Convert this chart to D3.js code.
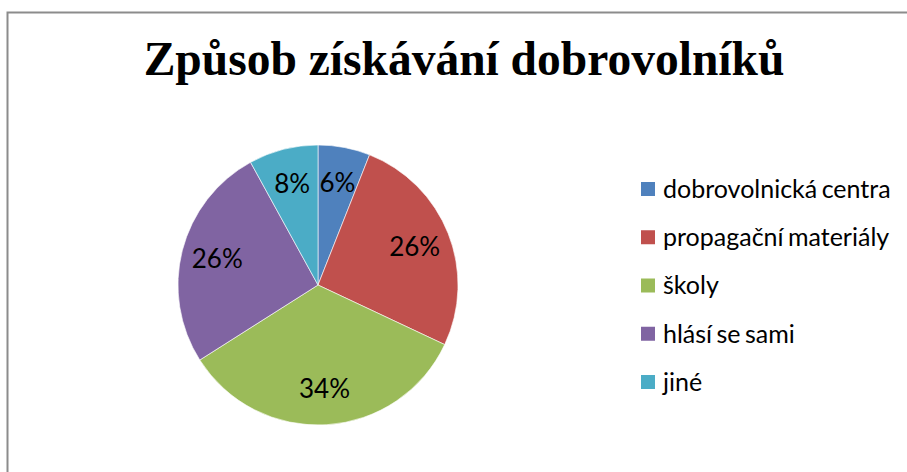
<!DOCTYPE html>
<html lang="cs">
  <head>
    <meta charset="utf-8">
    <title>Způsob získávání dobrovolníků</title>
    <style>
      body { margin: 0; background: #fff; }
      svg { display: block; }
      .title {
        font-family: 'Liberation Serif', 'Times New Roman', serif;
        font-weight: bold;
        font-size: 47.5px;
        text-anchor: middle;
        fill: #000;
      }
      .pct {
        font-family: Lato, 'Open Sans', sans-serif;
        font-size: 26px;
        text-anchor: middle;
        fill: #000;
      }
      .legend text {
        font-family: Lato, 'Open Sans', sans-serif;
        font-size: 25px;
        word-spacing: -2px;
        fill: #000;
      }
    </style>
  </head>
  <body>
    <svg id="chart" width="907" height="472"></svg>
    <script src="https://d3js.org/d3.v7.min.js"></script>
    <script>
      // data
      var categories = ["dobrovolnická centra", "propagační materiály", "školy", "hlásí se sami", "jiné"];
      var values = [6, 26, 34, 26, 8];
      var colors = ["#4F81BD", "#C0504D", "#9BBB59", "#8064A2", "#4BACC6"];

      var svg = d3.select("#chart");

      // chart area frame (only left and top edges show)
      svg.append("rect")
        .attr("x", 7.5)
        .attr("y", 12.5)
        .attr("width", 940)
        .attr("height", 500)
        .attr("fill", "none")
        .attr("stroke", "#8c8c8c")
        .attr("stroke-width", 2);

      svg.append("text")
        .attr("class", "title")
        .attr("x", 464)
        .attr("y", 75)
        .text("Způsob získávání dobrovolníků");

      var data = categories.map(function (c, i) {
        return { name: c, value: values[i], color: colors[i] };
      });

      var R = 140;
      var pie = d3.pie().sort(null).value(d => d.value);
      var arc = d3.arc().innerRadius(0).outerRadius(R);
      var labelArc = d3.arc().innerRadius(104).outerRadius(104);

      var g = svg.append("g")
        .attr("transform", "translate(" + 318 + "," + 285 + ")");

      var arcs = pie(data);

      g.selectAll("path")
        .data(arcs)
        .enter()
        .append("path")
        .attr("d", arc)
        .attr("fill", d => d.data.color)
        .attr("stroke", "#fff")
        .attr("stroke-width", 0.6);

      g.selectAll(".pct")
        .data(arcs)
        .enter()
        .append("text")
        .attr("class", "pct")
        .attr("x", d => labelArc.centroid(d)[0])
        .attr("y", d => labelArc.centroid(d)[1])
        .attr("dy", "0.35em")
        .text(d => d.data.value + "%");

      var legendY = d3.scalePoint()
        .domain(categories)
        .range([189, 382]);

      var legend = svg.append("g")
        .attr("class", "legend")
        .selectAll("g")
        .data(data)
        .enter()
        .append("g")
        .attr("transform", d => "translate(641," + legendY(d.name) + ")");

      legend.append("rect")
        .attr("x", 0)
        .attr("y", -7)
        .attr("width", 14)
        .attr("height", 14)
        .attr("fill", d => d.color);

      legend.append("text")
        .attr("x", 22)
        .attr("y", 0)
        .attr("dy", "0.35em")
        .text(d => d.name);
    </script>
  </body>
</html>
